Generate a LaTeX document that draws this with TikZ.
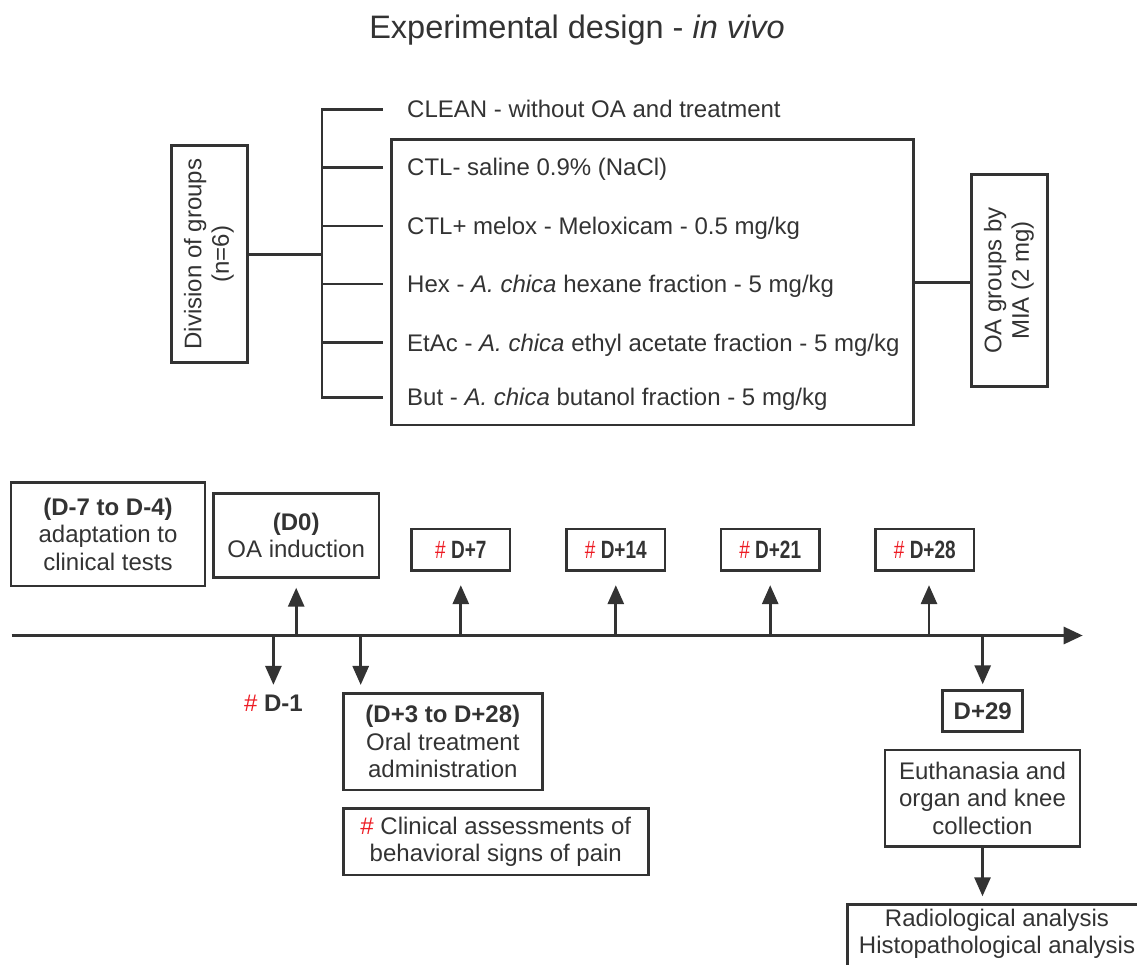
\documentclass[tikz,border=0pt]{standalone}
\usepackage{fontspec}
\setmainfont{Liberation Sans}
\newfontfamily\condfont[FakeStretch=0.76]{Liberation Sans}
\usepackage{graphicx}
\usetikzlibrary{arrows.meta}
\definecolor{ink}{HTML}{333333}
\definecolor{hash}{HTML}{ED1C24}
\begin{document}
\begin{tikzpicture}[x=1pt,y=-1pt,
  every node/.style={text=ink, font=\fontsize{24}{27.5}\selectfont},
  ln/.style={draw=ink, line width=2.9pt},
  box/.style={draw=ink, line width=2.8pt, inner sep=0pt, align=center},
  arr/.style={ln, -{Triangle[length=19pt,width=16pt]}},
  lbl/.style={inner sep=0pt, anchor=base west}]
\useasboundingbox (0,0) rectangle (1137,965);
\clip (0,0) rectangle (1137,965);

% title
\node (title) at (577,30) {\fontsize{32.5}{36}\selectfont Experimental design - \textit{in vivo}};

% group tree
\coordinate (tt) at (322,109.3);
\coordinate (tb) at (322,397.3);
\draw[ln, line cap=rect] (tt) -- (tb);
\foreach \i/\y in {1/109.3,2/167.3,3/226,4/284,5/342.7,6/397.3}{
  \coordinate (b\i) at (322,\y);
  \coordinate (e\i) at (382.7,\y);
  \draw[ln] (b\i) -- (e\i);
}
\node[box, minimum width=76.7pt, minimum height=217pt] (divb) at (209.5,254.2)
  {\rotatebox{90}{\begin{tabular}{@{}c@{}}Division of groups\\(n=6)\end{tabular}}};
\coordinate (tm) at (322,254.2);
\draw[ln] (divb.east) -- (tm);

\node[box, minimum width=521.6pt, minimum height=285.7pt] (grp) at (652.5,282.2) {};
\node[box, minimum width=75.6pt, minimum height=212.4pt] (oab) at (1009.5,280.5)
  {\rotatebox{90}{\begin{tabular}{@{}c@{}}OA groups by\\MIA (2 mg)\end{tabular}}};
\draw[ln] (grp.east) -- (grp.east -| oab.west);

\node[lbl] (r1) at (407,117.9) {CLEAN - without OA and treatment};
\node[lbl] (r2) at (407,175.9) {CTL- saline 0.9\% (NaCl)};
\node[lbl] (r3) at (407,234.6) {CTL+ melox - Meloxicam - 0.5 mg/kg};
\node[lbl] (r4) at (407,292.6) {Hex - \textit{A. chica} hexane fraction - 5 mg/kg};
\node[lbl] (r5) at (407,351.3) {EtAc - \textit{A. chica} ethyl acetate fraction - 5 mg/kg};
\node[lbl] (r6) at (407,405.9) {But - \textit{A. chica} butanol fraction - 5 mg/kg};

% timeline
\coordinate (t0) at (11.7,635.5);
\coordinate (t1) at (1082.7,635.5);
\draw[ln, -{Triangle[length=19pt,width=17pt]}] (t0) -- (t1);

\node[box, minimum width=194pt, minimum height=103.7pt] (adapt) at (108,534.2)
  {\textbf{(D-7 to D-4)}\\adaptation to\\clinical tests};
\node[box, minimum width=165.7pt, minimum height=84pt] (d0) at (296.2,535.3)
  {\textbf{(D0)}\\OA induction};
\node[box, minimum width=98.3pt, minimum height=41.7pt] (d7) at (460.8,549.9)
  {\condfont\fontsize{25}{27.5}\selectfont\textcolor{hash}{\#} \bfseries D+7};
\node[box, minimum width=98.3pt, minimum height=41.7pt] (d14) at (615.8,549.9)
  {\condfont\fontsize{25}{27.5}\selectfont\textcolor{hash}{\#} \bfseries D+14};
\node[box, minimum width=98.3pt, minimum height=41.7pt] (d21) at (770.2,549.9)
  {\condfont\fontsize{25}{27.5}\selectfont\textcolor{hash}{\#} \bfseries D+21};
\node[box, minimum width=98.3pt, minimum height=41.7pt] (d28) at (924.8,549.9)
  {\condfont\fontsize{25}{27.5}\selectfont\textcolor{hash}{\#} \bfseries D+28};

\coordinate (a0) at (296.2,635.5);
\coordinate (a7) at (460.8,635.5);
\coordinate (a14) at (615.8,635.5);
\coordinate (a21) at (770.2,635.5);
\coordinate (a28) at (929,635.5);
\draw[arr, shorten >=9pt] (a0) -- (a0 |- d0.south);
\draw[arr, shorten >=13pt] (a7) -- (a7 |- d7.south);
\draw[arr, shorten >=13pt] (a14) -- (a14 |- d14.south);
\draw[arr, shorten >=13pt] (a21) -- (a21 |- d21.south);
\draw[arr, shorten >=13pt] (a28) -- (a28 |- d28.south);

% below the line
\node[inner sep=0pt] (dm1) at (273.4,703.3) {\textcolor{hash}{\#} \bfseries D-1};
\coordinate (m1) at (273.4,635.5);
\draw[arr, shorten >=10pt] (m1) -- (dm1.north);

\node[box, minimum width=199pt, minimum height=96.7pt] (oral) at (442.8,741.7)
  {\textbf{(D+3 to D+28)}\\Oral treatment\\administration};
\coordinate (m3) at (360.7,635.5);
\draw[arr, shorten >=7pt] (m3) -- (m3 |- oral.north);

\node[box, minimum width=305pt, minimum height=66.7pt] (clin) at (495.8,841.7)
  {\textcolor{hash}{\#} Clinical assessments of\\behavioral signs of pain};

\node[box, minimum width=80pt, minimum height=41pt] (d29) at (982.7,711.2)
  {\bfseries D+29};
\coordinate (m29) at (982.7,635.5);
\draw[arr, shorten >=5pt] (m29) -- (d29.north);

\node[box, minimum width=195pt, minimum height=96.7pt] (euth) at (982.5,798.3)
  {Euthanasia and\\organ and knee\\collection};

\node[box, minimum width=299.4pt, minimum height=100pt, anchor=north] (anal) at (997,903.3) {};
\node[align=center, inner sep=0pt] (analt) at (997,934) {Radiological analysis\\Histopathological analysis};
\draw[arr, shorten >=7pt] (euth.south) -- (euth.south |- anal.north);
\end{tikzpicture}
\end{document}
